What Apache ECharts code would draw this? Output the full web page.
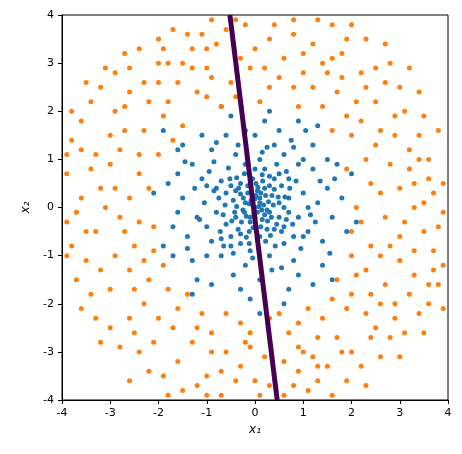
<!DOCTYPE html>
<html><head><meta charset="utf-8">
<script src="https://cdn.jsdelivr.net/npm/echarts@6/dist/echarts.min.js"></script>
<style>html,body{margin:0;padding:0;background:#fff}#c{width:462px;height:454px}</style>
</head><body><div id="c"></div>
<script>
const ticks = [-4,-3,-2,-1,0,1,2,3,4];
const boundary = [[-0.52,4],[0.46,-4]];
const blue = [
[0,0],[0.1,0.2],[-0.2,0.1],[0.3,-0.1],[-0.1,-0.3],[0.2,0.4],[-0.4,-0.2],[0.5,0.1],[-0.3,0.5],[0.1,-0.6],
[0.6,-0.4],[-0.6,0.3],[0.4,0.6],[-0.5,-0.6],[0.7,0.2],[-0.8,-0.1],[0.2,0.8],[-0.1,-0.9],[0.9,-0.2],[-0.2,0.9],
[0.05,0.35],[-0.25,-0.05],[0.35,0.25],[-0.15,0.45],[0.15,-0.25],[0.45,-0.35],[-0.45,0.15],[0.25,-0.45],[-0.35,-0.45],[0.55,0.45],
[-0.05,0.6],[0.6,0],[-0.6,-0.35],[0.3,0.65],[-0.7,0.55],[0.8,-0.6],[-0.3,-0.75],[0.65,0.75],[-0.85,0.35],[0.1,1.0],
[1.0,0.3],[-1.0,-0.4],[0.3,-1.0],[-0.4,1.1],[1.1,-0.5],[-1.1,0.6],[0.6,1.1],[-0.7,-1.0],[1.2,0.8],[-1.2,-0.2],
[0.8,-1.1],[-0.2,-1.2],[1.3,0.1],[-1.3,0.9],[0.4,1.3],[-0.9,1.2],[1.0,1.0],[-1.0,-1.0],[1.4,-0.7],[-1.4,-0.6],
[0.0,1.5],[0.1,-1.5],[1.5,0.4],[-1.5,0.2],[0.9,-1.4],[-0.6,1.5],[1.2,1.3],[-1.3,-1.1],[1.6,-0.2],[-1.6,0.7],
[0.5,1.6],[-0.3,-1.7],[1.7,0.9],[-1.7,-0.4],[0.7,-1.7],[-1.1,1.5],[1.4,-1.2],[-1.5,1.3],[0.2,1.8],[-0.1,-1.9],
[0.05,-0.1],[-0.08,0.15],[0.18,0.05],[-0.18,-0.18],[0.28,0.12],[-0.3,0.28],[0.12,-0.4],[0.4,0.38],[-0.42,-0.1],[0.02,0.5],
[0.5,-0.2],[-0.5,0.45],[0.22,-0.7],[-0.22,0.7],[0.72,0.4],[-0.72,-0.5],[0.42,-0.8],[-0.55,0.82],[0.85,0.55],[-0.9,-0.7],
[1.1,0],[-1.05,0.1],[0.15,1.15],[-0.05,-1.05],[0.95,-0.85],[-0.85,0.95],[1.25,-0.3],[-1.25,0.4],[0.35,-1.3],[-0.45,-1.4],
[1.35,0.55],[-1.4,-0.85],[0.75,1.4],[-0.8,1.35],[1.55,-0.95],[-1.6,-0.1],[1.05,1.6],[-1.2,-1.5],[1.8,0.2],[-1.8,0.5],
[0.0,0.8],[0.6,-0.75],[-0.65,-0.8],[0.9,0.9],[-0.95,0.75],[1.15,-0.15],[-1.15,-0.25],[0.25,1.25],[-0.35,1.3],[0.55,-1.25],
[1.5,1.0],[-1.45,0.95],[1.2,-1.6],[-0.9,-1.6],[0.3,2.0],[-0.5,1.9],[1.9,-0.5],[-1.9,-0.8],[0.9,1.8],[-1.6,1.2],
[0.02,0.25],[-0.12,-0.5],[0.32,-0.58],[-0.38,0.62],[0.62,0.22],[-0.62,0.05],[0.1,0.1],[-0.05,0.05],[0.2,-0.15],[-0.15,0.3],
[0.7,-0.1],[-0.75,0.2],[0.45,0.9],[-0.45,-0.95],[1.0,-0.6],[-1.0,0.45],[0.8,1.25],[-0.2,1.6],[1.65,0.6],[-1.7,-1.0],
[2.0,0.7],[-2.1,0.3],[0.6,-2.0],[-0.7,2.1],[1.3,1.7],[-1.3,-1.8],[2.1,-0.3],[-1.9,1.6],[1.6,-1.5],[0.1,-2.2],
[0.08,0.02],[-0.02,-0.12],[0.14,-0.05],[-0.12,0.08],[0.22,0.25],[-0.24,0.2],[0.26,-0.28],[-0.28,-0.3],[0.38,0.05],[-0.38,0.02],
[0.06,0.42],[-0.04,-0.42],[0.48,0.22],[-0.48,-0.28],[0.16,0.55],[-0.18,-0.62],[0.55,-0.5],[-0.52,0.6],[0.34,-0.2],[-0.34,0.4],
[0.0,0.18],[0.0,-0.22],[0.12,0.3],[-0.1,-0.2],[0.25,-0.05],[-0.22,-0.1],[0.4,-0.45],[-0.4,0.35],[0.65,-0.25],[-0.66,-0.15],
[0.3,0.45],[-0.3,-0.55],[0.78,-0.35],[-0.8,0.4],[0.5,0.7],[-0.5,-0.8],[0.15,0.68],[-0.12,-0.75],[0.7,0.6],[-0.7,-0.65]
];
const orange = [
[3.5,0.1],[3.2,0.8],[3.8,-0.4],[2.9,1.5],[3.6,1.0],[2.5,2.2],[3.1,2.0],[2.2,2.8],[1.8,3.2],[1.2,3.4],
[0.8,3.6],[0.3,3.5],[-0.2,3.8],[-0.8,3.4],[-1.3,3.3],[-1.8,3.0],[-2.3,2.6],[-2.7,2.1],[-3.0,1.5],[-3.4,0.8],
[-3.6,0.2],[-3.3,-0.5],[-3.5,-1.1],[-3.0,-1.7],[-2.6,-2.3],[-2.1,-2.8],[-1.6,-3.2],[-1.0,-3.5],[-0.4,-3.6],[0.3,-3.7],
[0.9,-3.4],[1.5,-3.3],[2.0,-3.0],[2.5,-2.5],[2.9,-2.0],[3.3,-1.4],[3.7,-0.9],[2.6,0.3],[2.4,-0.8],[2.3,1.0],
[1.9,1.9],[1.2,2.5],[0.5,2.7],[-0.5,2.6],[-1.2,2.4],[-1.9,1.9],[-2.4,1.1],[-2.6,0.2],[-2.5,-0.8],[-2.2,-1.5],
[-1.6,-2.1],[-0.9,-2.6],[-0.1,-2.6],[0.7,-2.6],[1.4,-2.3],[2.0,-1.8],[2.3,-1.3],[2.7,-0.2],[3.0,0.4],[3.9,0.5],
[3.8,1.6],[3.4,2.4],[2.8,3.0],[2.3,3.5],[1.6,3.8],[0.8,3.9],[-0.9,3.9],[-1.7,3.7],[-2.4,3.3],[-2.9,2.8],
[-3.4,2.2],[-3.8,1.4],[-3.9,0.7],[-3.9,-0.3],[-3.7,-1.5],[-3.3,-2.3],[-2.8,-2.9],[-2.2,-3.4],[-1.5,-3.8],[-0.7,-3.9],
[0.1,-3.9],[1.1,-3.8],[1.9,-3.6],[2.6,-3.1],[3.1,-2.6],[3.6,-2.0],[3.9,-1.2],[2.1,0.0],[2.0,-0.5],[1.9,0.8],
[1.6,1.6],[0.9,2.1],[0.1,2.2],[-0.7,2.1],[-1.5,1.7],[-2.0,1.1],[-2.2,0.4],[-2.1,-0.4],[-1.9,-1.2],[-1.4,-1.8],
[-0.6,-2.2],[0.3,-2.3],[1.1,-2.1],[1.7,-1.5],[2.0,-1.0],[3.3,0.0],[3.0,-0.6],[2.8,0.9],[2.6,1.6],[2.1,2.2],
[1.5,2.8],[0.6,3.1],[-0.3,3.1],[-1.0,2.9],[-1.6,2.6],[-2.2,2.2],[-2.7,1.6],[-3.0,0.9],[-3.1,0.0],[-2.9,-1.0],
[-2.5,-1.7],[-2.0,-2.3],[-1.3,-2.8],[-0.6,-3.0],[0.2,-3.1],[1.0,-3.0],[1.7,-2.7],[2.3,-2.2],[2.7,-1.6],[3.0,-1.1],
[3.6,0.6],[3.4,1.5],[3.0,2.5],[2.5,2.9],[1.9,3.5],[1.0,3.2],[0.0,3.3],[-0.6,3.7],[-1.4,3.6],[-2.0,3.5],
[-2.6,2.9],[-3.2,2.5],[-3.6,1.8],[-3.6,1.2],[-3.2,0.4],[-3.8,-0.8],[-3.4,-1.8],[-3.0,-2.5],[-2.4,-3.0],[-1.9,-3.5],
[-1.2,-3.7],[-0.3,-3.3],[0.6,-3.9],[1.3,-3.6],[2.2,-3.3],[2.8,-2.7],[3.4,-2.2],[3.8,-1.6],[3.5,-0.5],[3.9,-0.1],
[2.4,0.5],[2.2,-0.3],[2.5,1.3],[2.0,1.5],[1.4,2.1],[0.3,2.5],[-0.4,2.3],[-1.0,2.3],[-1.8,2.2],[-2.3,1.6],
[-2.4,0.7],[-2.4,-0.3],[-2.3,-1.1],[-1.8,-1.7],[-1.1,-2.2],[-0.3,-2.4],[0.5,-2.2],[1.3,-2.7],[1.9,-2.1],[2.4,-1.8],
[2.6,-1.0],[3.2,1.2],[2.9,1.9],[2.3,2.5],[1.6,3.1],[1.0,2.8],[-0.1,2.9],[-1.3,2.9],[-2.0,2.6],[-2.6,2.4],
[-2.8,1.2],[-2.9,0.4],[-2.7,-0.5],[-2.6,-1.3],[-2.3,-2.0],[-1.7,-2.5],[-0.9,-3.0],[-0.1,-2.9],[0.6,-3.2],[1.2,-3.1],
[1.8,-3.0],[2.4,-2.7],[2.9,-2.3],[3.2,-1.8],[3.3,-0.9],[3.7,-1.3],[3.7,0.3],[3.5,1.9],[3.2,2.9],[2.7,3.4],
[2.0,3.8],[1.3,3.9],[0.4,3.8],[-0.4,3.9],[-1.1,3.6],[-1.9,3.3],[-2.7,3.2],[-3.1,2.9],[-3.5,2.6],[-3.8,2.0],
[-3.9,1.1],[-3.7,-0.1],[-3.9,-1.0],[-3.6,-2.1],[-3.2,-2.8],[-2.6,-3.6],[-1.8,-3.9],[-1.0,-3.9],[0.0,-3.6],[0.8,-3.7],
[1.6,-3.9],[2.3,-3.7],[3.0,-3.1],[3.5,-2.6],[3.9,-2.1],[4.2,0.9],[-4.1,0.4],[2.2,1.8],[1.7,2.4],[-1.7,1.4],
[-2.1,-0.9],[-1.2,-2.5],[0.9,-2.4],[2.1,-1.4],[1.6,-1.9],[-0.2,-2.8],[-0.9,2.7],[0.2,2.9],[0.8,2.5],[1.8,2.7],
[3.3,0.5],[3.1,-0.3],[2.8,-0.8],[3.4,1.0],[-3.3,1.1],[-3.2,-1.3],[-2.8,-0.2],[-2.9,2.0],[1.4,3.0],[-1.5,3.0],
[-0.7,-3.4],[1.3,-3.3],[2.7,2.6],[-2.5,-2.6],[2.6,-2.0],[-2.0,3.0],[0.9,-2.9],[-3.5,-0.5],[3.6,-1.6],[-1.0,3.3]
];
const chart = echarts.init(document.getElementById('c'));
const ax = {
  min:-4,max:4,interval:1,
  axisLine:{onZero:false,lineStyle:{color:'#000'}},
  axisTick:{lineStyle:{color:'#000'},length:4},
  axisLabel:{color:'#000',fontSize:11,fontFamily:'DejaVu Sans'},
  splitLine:{show:false},
  nameLocation:'middle',
  nameTextStyle:{color:'#000',fontSize:12,fontFamily:'DejaVu Sans',fontStyle:'italic'}
};
chart.setOption({
  animation:false,
  grid:{left:62,right:14,top:15,bottom:54,show:true,borderColor:'#000',borderWidth:1},
  xAxis:Object.assign({},ax,{name:'x₁',nameGap:22}),
  yAxis:Object.assign({},ax,{name:'x₂',nameGap:24}),
  series:[
    {type:'scatter',data:blue,symbolSize:5,itemStyle:{color:'#1f77b4',opacity:1,borderWidth:0},clip:true,z:2},
    {type:'scatter',data:orange,symbolSize:5,itemStyle:{color:'#ff7f0e',opacity:1,borderWidth:0},clip:true,z:3},
    {type:'line',data:boundary,symbol:'none',lineStyle:{color:'#440154',width:5},clip:true,z:10}
  ]
});
</script></body></html>
